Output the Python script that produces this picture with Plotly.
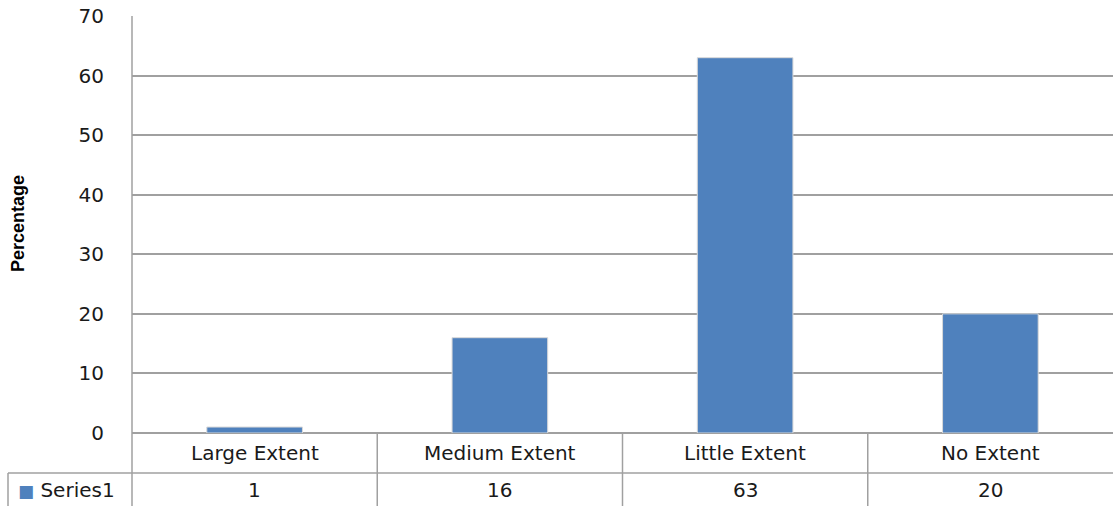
import plotly.graph_objects as go

categories = ["Large Extent", "Medium Extent", "Little Extent", "No Extent"]
values = [1, 16, 63, 20]
series_name = "Series1"
y_ticks = [0, 10, 20, 30, 40, 50, 60, 70]

W, H = 1113, 506
L, R, T, B = 132, 0, 16, 73
pw, ph = W - L - R, H - T - B

def py(pix):  # pixel y -> paper y
    return (H - B - pix) / ph

def px(pix):
    return (pix - L) / pw

font_main = "Verdana, DejaVu Sans, sans-serif"
grid = "#a0a0a0"
txt = "#1a1a1a"
fs = 20

fig = go.Figure()
fig.add_trace(go.Bar(
    x=categories, y=values, name=series_name,
    marker=dict(color="#4F81BD", line=dict(color="#d9d9d9", width=1)),
    width=0.39, showlegend=False,
))

shapes = []
shapes.append(dict(type="line", xref="paper", yref="paper", x0=px(8), x1=1, y0=py(473), y1=py(473),
                   line=dict(color=grid, width=1.5)))
shapes.append(dict(type="line", xref="paper", yref="paper", x0=px(8), x1=px(8), y0=py(473), y1=py(506),
                   line=dict(color=grid, width=1.5)))
shapes.append(dict(type="line", xref="paper", yref="paper", x0=0, x1=0, y0=1, y1=py(506),
                   line=dict(color=grid, width=1.5)))
for i in range(len(categories) - 1):
    shapes.append(dict(type="line", xref="x", yref="paper", x0=i + 0.5, x1=i + 0.5, y0=0, y1=py(506),
                       line=dict(color=grid, width=1.5)))

annotations = []
for i, c in enumerate(categories):
    annotations.append(dict(x=c, xref="x", yref="paper", y=py(453), yanchor="middle", text=c,
                            showarrow=False, font=dict(family=font_main, size=fs, color=txt)))
    annotations.append(dict(x=c, xref="x", yref="paper", y=py(490), yanchor="middle", text=str(values[i]),
                            showarrow=False, font=dict(family=font_main, size=fs, color=txt)))
annotations.append(dict(x=px(16), xref="paper", yref="paper", y=py(490), xanchor="left", yanchor="middle",
                        text="<span style='color:#4F81BD;font-size:17px'>■</span> " + series_name,
                        showarrow=False, font=dict(family=font_main, size=fs, color=txt)))
annotations.append(dict(x=px(18), xref="paper", yref="paper", y=py(224), yanchor="middle", xanchor="center",
                        text="<b>Percentage</b>", textangle=-90, showarrow=False,
                        font=dict(family="Liberation Sans Narrow, Arial Narrow, Liberation Sans, sans-serif",
                                  size=18, color="#000000")))

fig.update_layout(
    width=W, height=H,
    margin=dict(l=L, r=R, t=T, b=B, pad=0),
    paper_bgcolor="white", plot_bgcolor="white",
    shapes=shapes, annotations=annotations,
    xaxis=dict(showticklabels=False, showgrid=False, zeroline=False, showline=False,
               range=[-0.5, 3.5]),
    yaxis=dict(range=[0, 70], tickvals=y_ticks, showgrid=True, gridcolor=grid, gridwidth=1.5,
               zeroline=True, zerolinecolor=grid, zerolinewidth=1.5,
               showline=False, ticks="", ticklabelstandoff=27,
               tickfont=dict(family=font_main, size=fs, color=txt)),
)

fig.write_html("out.html")
